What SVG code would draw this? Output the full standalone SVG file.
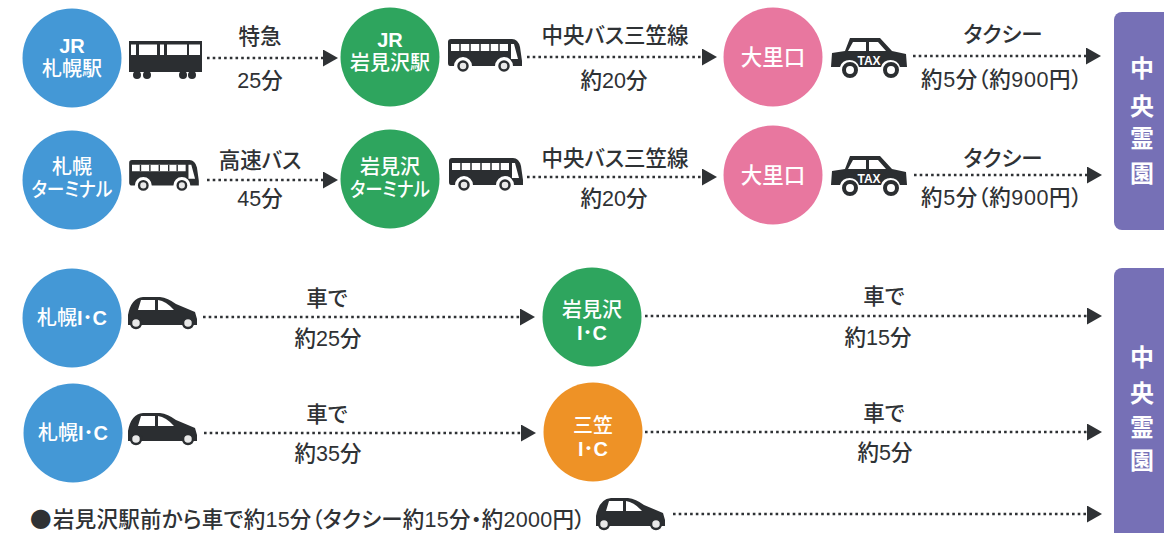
<svg xmlns="http://www.w3.org/2000/svg" width="1164" height="533" viewBox="0 0 1164 533">
<style>
text{font-family:"Liberation Sans","Noto Sans CJK JP",sans-serif;text-anchor:middle;font-feature-settings:"palt"}
.l{font-size:21.5px;fill:#2f3235;font-weight:500}
.w{font-size:20px;fill:#fff;font-weight:500}
.b{font-weight:700}
.g{font-size:24px;fill:#fff;font-weight:700}
.blue{fill:#4498d6}.green{fill:#2ea55e}.pink{fill:#e8779f}.orange{fill:#ee9226}.purple{fill:#7670b6}
.dot{fill:none;stroke:#2f3235;stroke-width:2.600;stroke-dasharray:2.600 3.100}
.v{fill:#2b2e31}
</style>
<defs>
<marker id="ah" markerUnits="userSpaceOnUse" markerWidth="16" markerHeight="18" refX="0" refY="8.500" orient="auto"><path d="M0 0L15 8.500L0 17Z" fill="#2f3235"/></marker>
<symbol id="train" viewBox="0 0 74 40" overflow="visible">
<path class="v" d="M0 0H73V31H0Z"/><path d="M2 3.500H7V14H2ZM10 3.500H28V14H10ZM31 3.500H35V14H31ZM38 3.500H58V14H38ZM60 3.500H71V14H60Z" fill="#fff"/>
<circle class="v" cx="8" cy="34" r="4"/><circle class="v" cx="18" cy="34" r="4"/><circle class="v" cx="54" cy="34" r="4"/><circle class="v" cx="63" cy="34" r="4"/></symbol>
<symbol id="bus" viewBox="0 0 74 34" overflow="visible">
<path class="v" d="M3 0H64Q70 0 72 8L74 22V27H65A9 9 0 0 0 47 27H24A9 9 0 0 0 6 27H2Q0 27 0 24V3Q0 0 3 0Z"/>
<path d="M3 5H60V12H3Z M63 5H66L70 20H63Z" fill="#fff"/><path d="M12 5V12M22 5V12M32 5V12M42 5V12M51 5V12" stroke="#2b2e31" stroke-width="1.500"/>
<circle cx="15" cy="27" r="4.500" fill="#e8e8e8" stroke="#2b2e31" stroke-width="2.500"/><circle cx="56" cy="27" r="4.500" fill="#e8e8e8" stroke="#2b2e31" stroke-width="2.500"/></symbol>
<symbol id="taxi" viewBox="0 0 76 40" overflow="visible">
<path class="v" d="M19 0H49L61 13L75 16L76 29H69A10 10 0 0 0 50 29H28A10 10 0 0 0 9 29H0L1 15L14 13Z"/>
<path d="M22 4H35V13H17ZM38 4H47L55 13H38Z" fill="#fff"/>
<circle cx="19" cy="32" r="6" fill="#fff" stroke="#2b2e31" stroke-width="4"/><circle cx="60" cy="32" r="6" fill="#fff" stroke="#2b2e31" stroke-width="4"/>
<text x="38" y="27" style="font-family:'Liberation Sans',sans-serif;font-size:12px;font-weight:700" fill="#fff">TAX</text></symbol>
<symbol id="car" viewBox="0 0 70 34" overflow="visible">
<path class="v" d="M0 18Q3 1 15 0H32Q40 1 48 7L67 15L69 22V28H0Z"/>
<path d="M13 3H27V13H10ZM30 3Q38 4 46 13H30Z" fill="#fff"/>
<circle cx="8" cy="26" r="5" fill="#e8e8e8" stroke="#2b2e31" stroke-width="2.500"/><circle cx="60" cy="26" r="5" fill="#e8e8e8" stroke="#2b2e31" stroke-width="2.500"/></symbol>
</defs>

<g id="connectors">
<path class="dot" marker-end="url(#ah)" d="M207 58H323"/>
<path class="dot" marker-end="url(#ah)" d="M527 57H702"/>
<path class="dot" marker-end="url(#ah)" d="M913 56H1086"/>
<path class="dot" marker-end="url(#ah)" d="M207 180H323"/>
<path class="dot" marker-end="url(#ah)" d="M527 177H702"/>
<path class="dot" marker-end="url(#ah)" d="M914 175H1087"/>
<path class="dot" marker-end="url(#ah)" d="M203 317H520"/>
<path class="dot" marker-end="url(#ah)" d="M645 316H1087"/>
<path class="dot" marker-end="url(#ah)" d="M204 433H521"/>
<path class="dot" marker-end="url(#ah)" d="M645 432H1087"/>
<path class="dot" marker-end="url(#ah)" d="M673 514H1087"/>
</g>

<g id="n-jr-sapporo"><circle class="blue" cx="72" cy="58" r="49.500"/><text class="w b" x="72" y="53">JR</text><text class="w" x="72" y="76">札幌駅</text></g>
<g id="n-jr-iwamizawa"><circle class="green" cx="390" cy="57" r="49.500"/><text class="w b" x="390" y="47">JR</text><text class="w" x="390" y="70">岩見沢駅</text></g>
<g id="n-oosatoguchi-1"><circle class="pink" cx="773" cy="57" r="49.500"/><text class="w" x="773" y="65" style="font-size:21.500px">大里口</text></g>
<g id="n-sapporo-terminal"><circle class="blue" cx="72" cy="180" r="49.500"/><text class="w" x="72" y="174">札幌</text><text class="w" x="72" y="197" textLength="81" lengthAdjust="spacingAndGlyphs">ターミナル</text></g>
<g id="n-iwamizawa-terminal"><circle class="green" cx="390" cy="179" r="49.500"/><text class="w" x="390" y="174">岩見沢</text><text class="w" x="390" y="197" textLength="80" lengthAdjust="spacingAndGlyphs">ターミナル</text></g>
<g id="n-oosatoguchi-2"><circle class="pink" cx="773" cy="175" r="49.500"/><text class="w" x="773" y="183" style="font-size:21.500px">大里口</text></g>
<g id="n-sapporo-ic-1"><circle class="blue" cx="72" cy="318" r="49.500"/><text class="w" x="72" y="325">札幌<tspan class="b">I･C</tspan></text></g>
<g id="n-iwamizawa-ic"><circle class="green" cx="592" cy="317" r="49.500"/><text class="w" x="592" y="317">岩見沢</text><text class="w b" x="592" y="340">I･C</text></g>
<g id="n-sapporo-ic-2"><circle class="blue" cx="73" cy="433" r="49.500"/><text class="w" x="73" y="440">札幌<tspan class="b">I･C</tspan></text></g>
<g id="n-mikasa-ic"><circle class="orange" cx="593" cy="432" r="49.500"/><text class="w" x="593" y="433">三笠</text><text class="w b" x="593" y="456">I･C</text></g>

<g id="n-reien-1"><rect class="purple" x="1114" y="12" width="70" height="218" rx="8"/><text class="g" x="1142" y="77">中</text><text class="g" x="1142" y="115">央</text><text class="g" x="1142" y="147">霊</text><text class="g" x="1142" y="182">園</text></g>
<g id="n-reien-2"><rect class="purple" x="1114" y="268" width="70" height="285" rx="8"/><text class="g" x="1142" y="366">中</text><text class="g" x="1142" y="402">央</text><text class="g" x="1142" y="436">霊</text><text class="g" x="1142" y="469">園</text></g>

<g id="vehicles">
<use href="#train" x="129" y="41" width="74" height="40"/>
<use href="#bus" x="448" y="39" width="74" height="34"/>
<use href="#taxi" x="831" y="38" width="76" height="40"/>
<use href="#bus" x="127" y="160" width="74" height="32"/>
<use href="#bus" x="449" y="158" width="74" height="34"/>
<use href="#taxi" x="831" y="156" width="76" height="40"/>
<use href="#car" x="128" y="297" width="70" height="34"/>
<use href="#car" x="128" y="413" width="70" height="34"/>
<use href="#car" x="596" y="498" width="70" height="34"/>
</g>

<g id="labels">
<text class="l" x="260" y="44">特急</text><text class="l" x="260" y="88">25分</text>
<text class="l" x="615" y="43">中央バス三笠線</text><text class="l" x="614" y="88">約20分</text>
<text class="l" x="1003" y="42">タクシー</text><text class="l" x="1001.500" y="87" textLength="161">約5分（約900円）</text>
<text class="l" x="260" y="168">高速バス</text><text class="l" x="260" y="206">45分</text>
<text class="l" x="615" y="166">中央バス三笠線</text><text class="l" x="614" y="206">約20分</text>
<text class="l" x="1003" y="166">タクシー</text><text class="l" x="1001.500" y="205" textLength="161">約5分（約900円）</text>
<text class="l" x="327" y="306">車で</text><text class="l" x="328" y="346">約25分</text>
<text class="l" x="884" y="304">車で</text><text class="l" x="878" y="345">約15分</text>
<text class="l" x="327" y="422">車で</text><text class="l" x="328" y="461">約35分</text>
<text class="l" x="884" y="421">車で</text><text class="l" x="885" y="460">約5分</text>
<text x="30" y="527" style="text-anchor:start;font-family:'Noto Sans CJK JP',sans-serif;font-feature-settings:normal;font-size:21.500px;fill:#2f3235">●</text>
<text class="l" x="53" y="527" style="text-anchor:start" textLength="532">岩見沢駅前から車で約15分（タクシー約15分・約2000円）</text>
</g>
</svg>
